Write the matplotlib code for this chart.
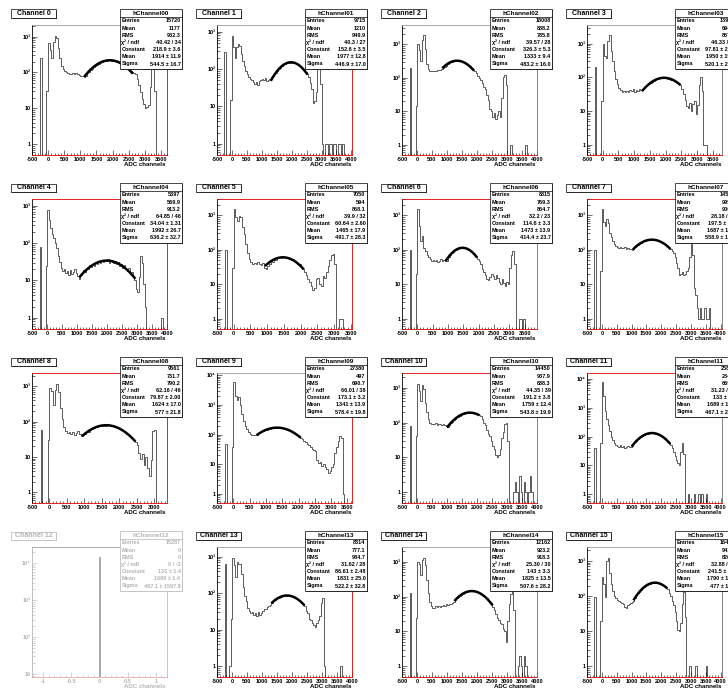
import numpy as np
import matplotlib
matplotlib.use('Agg')
import matplotlib.pyplot as plt
from matplotlib.patches import Rectangle
from matplotlib.lines import Line2D
from matplotlib.ticker import MultipleLocator, FixedLocator, FuncFormatter, LogLocator, NullFormatter

plt.rcParams['font.family'] = ['Liberation Sans', 'DejaVu Sans']
plt.rcParams['font.weight'] = 'bold'

# 50 ADC per bin, -500 .. 4000
bin_edges = np.arange(-500, 4001, 50)

ch00 = [0, 0, 0, 0, 0, 250, 0, 0, 0, 30,
        660, 420, 250, 700, 1050, 900, 480, 260, 150, 125,
        110, 100, 95, 92, 88, 95, 90, 96, 92, 86,
        80, 78, 74, 82, 95, 102, 118, 125, 138, 150,
        163, 172, 188, 193, 205, 210, 214, 222, 218, 212,
        216, 208, 201, 192, 187, 176, 166, 152, 146, 135,
        120, 112, 104, 95, 88, 66, 44, 28, 18, 13,
        10, 11, 12, 40, 130, 140, 30, 0, 0, 0,
        0, 0, 0, 0, 0, 0, 0, 0, 0, 0]
ch01 = [0, 0, 0, 0, 0, 280, 0, 0, 0, 15,
        760, 380, 200, 380, 480, 420, 250, 170, 120, 90,
        72, 62, 55, 50, 46, 40, 44, 38, 48, 52,
        55, 50, 58, 47, 52, 55, 60, 66, 72, 80,
        90, 98, 110, 120, 128, 138, 143, 150, 152, 149,
        153, 147, 143, 136, 130, 122, 112, 102, 93, 82,
        72, 62, 42, 30, 12, 14, 25, 120, 180, 40,
        1, 0, 1, 1, 0, 1, 1, 0, 1, 1,
        0, 1, 1, 0, 1, 0, 0, 0, 0, 0]
ch02 = [0, 0, 0, 0, 0, 200, 0, 0, 0, 15,
        1000, 700, 320, 1400, 1900, 720, 260, 180, 165, 160,
        158, 165, 160, 170, 168, 175, 185, 195, 215, 230,
        262, 280, 295, 305, 315, 320, 326, 330, 322, 318,
        305, 296, 275, 262, 240, 222, 198, 178, 156, 140,
        118, 100, 86, 72, 55, 48, 30, 22, 12, 10,
        7, 9, 6, 8, 10, 7, 25, 110, 125, 60,
        0, 0, 1, 0, 0, 0, 0, 0, 0, 0,
        0, 0, 1, 0, 0, 0, 0, 0, 0, 0]
ch03 = [0, 0, 0, 0, 0, 210, 0, 0, 0, 20,
        1000, 420, 380, 1200, 1800, 600, 300, 160, 90, 65,
        50, 42, 38, 40, 36, 41, 38, 42, 40, 44,
        38, 42, 40, 45, 43, 46, 50, 55, 60, 63,
        70, 74, 80, 84, 88, 90, 94, 95, 97, 100,
        96, 92, 90, 86, 82, 78, 72, 68, 62, 58,
        45, 32, 22, 14, 12, 18, 10, 16, 20, 8,
        15, 60, 100, 40, 1, 1, 0, 0, 0, 0,
        0, 0, 0, 0, 0, 0, 0, 0, 0, 0]
ch04 = [0, 0, 0, 0, 0, 78, 0, 0, 0, 25,
        760, 420, 260, 180, 140, 100, 75, 45, 32, 22,
        18, 20, 16, 18, 14, 19, 15, 17, 20, 16,
        13, 11, 14, 16, 19, 17, 22, 20, 26, 23,
        28, 25, 32, 28, 34, 30, 36, 31, 35, 33,
        38, 30, 35, 32, 29, 34, 27, 31, 25, 28,
        22, 26, 20, 18, 21, 15, 17, 12, 10, 6,
        5, 12, 45, 30, 8, 2, 0, 0, 0, 0,
        0, 0, 0, 0, 0, 0, 1, 0, 0, 0]
ch05 = [0, 0, 0, 0, 0, 100, 0, 0, 0, 30,
        1500, 900, 700, 950, 900, 450, 280, 150, 80, 55,
        45, 40, 42, 38, 44, 40, 36, 41, 30, 28,
        35, 38, 46, 44, 52, 50, 56, 61, 58, 63,
        60, 58, 62, 55, 52, 54, 46, 45, 38, 40,
        32, 28, 22, 18, 14, 12, 9, 7, 8, 14,
        15, 10, 9, 17, 15, 22, 35, 50, 70, 75,
        40, 0, 0, 1, 1, 0, 0, 0, 0, 0,
        0, 0, 0, 0, 0, 0, 0, 0, 0, 0]
ch06 = [0, 0, 0, 0, 0, 100, 0, 0, 0, 20,
        1500, 500, 180, 250, 110, 90, 70, 60, 55, 48,
        50, 46, 52, 44, 48, 53, 47, 50, 46, 48,
        62, 72, 82, 88, 96, 102, 108, 112, 114, 115,
        113, 110, 107, 100, 95, 88, 80, 72, 63, 55,
        47, 38, 28, 22, 18, 14, 13, 16, 20, 17,
        14, 18, 15, 12, 10, 14, 11, 9, 12, 10,
        30, 70, 90, 40, 0, 0, 1, 1, 0, 1,
        0, 0, 0, 0, 0, 0, 0, 0, 0, 0]
ch07 = [0, 0, 0, 0, 0, 100, 0, 0, 0, 25,
        1500, 650, 500, 800, 600, 300, 240, 180, 150, 130,
        120, 115, 118, 110, 112, 120, 106, 114, 108, 104,
        100, 108, 118, 128, 140, 150, 160, 168, 177, 183,
        189, 192, 196, 198, 197, 196, 191, 188, 180, 172,
        164, 155, 145, 135, 124, 112, 103, 92, 80, 62,
        42, 30, 18, 20, 22, 19, 20, 24, 30, 60,
        150, 70, 8, 5, 2, 1, 2, 1, 1, 2,
        1, 1, 2, 0, 0, 0, 0, 0, 0, 0]
ch08 = [0, 0, 0, 0, 0, 60, 0, 0, 0, 30,
        900, 750, 300, 800, 1200, 700, 250, 120, 70, 55,
        48, 52, 45, 50, 42, 47, 53, 44, 40, 42,
        44, 50, 52, 60, 64, 68, 70, 73, 74, 78,
        77, 80, 78, 80, 79, 77, 77, 75, 70, 67,
        62, 59, 55, 51, 46, 42, 38, 34, 30, 27,
        22, 13, 9, 12, 6, 10, 5, 3, 8, 55,
        60, 0, 0, 0, 0, 0, 0, 0, 0, 0,
        0, 0, 0, 0, 0, 0, 0, 0, 0, 0]
ch09 = [0, 0, 0, 0, 0, 50, 0, 0, 0, 40,
        6000, 2000, 1500, 1800, 1000, 500, 300, 200, 150, 120,
        105, 100, 95, 98, 98, 112, 120, 130, 136, 145,
        149, 153, 161, 165, 170, 168, 173, 170, 171, 168,
        164, 160, 153, 148, 139, 130, 122, 112, 104, 95,
        86, 78, 69, 62, 58, 50, 45, 38, 34, 30,
        28, 14, 11, 12, 9, 10, 8, 7, 5, 6,
        8, 10, 25, 40, 60, 90, 80, 1, 0, 0,
        0, 0, 0, 0, 0, 0, 0, 0, 0, 0]
ch10 = [0, 0, 0, 0, 0, 80, 0, 0, 0, 40,
        1300, 800, 400, 1200, 900, 350, 200, 130, 100, 92,
        90, 88, 94, 86, 90, 92, 85, 88, 84, 80,
        76, 86, 97, 106, 118, 128, 139, 148, 158, 166,
        174, 180, 185, 188, 191, 189, 190, 186, 182, 176,
        170, 160, 152, 125, 100, 85, 62, 48, 40, 30,
        22, 18, 12, 10, 12, 18, 35, 55, 90, 100,
        30, 0, 0, 0, 1, 2, 1, 0, 3, 1,
        0, 2, 1, 0, 1, 3, 1, 0, 0, 0]
ch11 = [0, 0, 0, 0, 0, 40, 0, 0, 0, 60,
        8000, 2500, 800, 400, 250, 160, 100, 75, 60, 52,
        48, 45, 50, 42, 46, 40, 44, 47, 42, 45,
        47, 55, 64, 72, 81, 90, 98, 106, 113, 119,
        125, 128, 132, 134, 133, 131, 128, 122, 117, 110,
        103, 95, 86, 78, 69, 60, 53, 40, 30, 22,
        15, 12, 10, 30, 60, 25, 0, 0, 1, 0,
        0, 0, 1, 0, 0, 1, 0, 1, 0, 0,
        1, 0, 0, 0, 0, 0, 0, 0, 0, 0]
ch13 = [0, 0, 0, 0, 0, 650, 0, 0, 1, 20,
        930, 600, 280, 700, 620, 640, 330, 150, 85, 60,
        40, 32, 28, 30, 26, 28, 24, 30, 25, 28,
        32, 38, 36, 42, 45, 48, 54, 60, 64, 70,
        73, 76, 80, 82, 85, 87, 86, 85, 84, 82,
        81, 77, 74, 70, 65, 60, 55, 50, 45, 32,
        28, 20, 18, 15, 13, 12, 15, 18, 24, 55,
        75, 1, 0, 0, 0, 0, 0, 0, 0, 0,
        0, 0, 1, 0, 0, 0, 0, 0, 0, 0]
ch14 = [0, 0, 0, 0, 0, 125, 0, 0, 0, 25,
        1000, 850, 400, 1100, 1300, 800, 300, 130, 70, 55,
        48, 47, 52, 50, 54, 50, 55, 58, 55, 60,
        58, 62, 60, 64, 70, 79, 88, 97, 105, 113,
        120, 127, 132, 137, 140, 142, 143, 142, 140, 137,
        132, 127, 120, 113, 105, 97, 88, 79, 71, 63,
        50, 40, 32, 25, 22, 18, 16, 12, 10, 5,
        20, 60, 120, 170, 40, 0, 0, 1, 2, 1,
        0, 2, 1, 0, 0, 0, 0, 0, 0, 0]
ch15 = [0, 0, 0, 0, 0, 95, 0, 0, 0, 20,
        340, 220, 95, 1000, 1250, 470, 220, 140, 100, 90,
        80, 75, 70, 62, 58, 48, 45, 55, 60, 65,
        70, 75, 90, 105, 120, 135, 150, 165, 180, 194,
        206, 218, 226, 234, 238, 241, 240, 238, 232, 224,
        214, 202, 188, 174, 158, 120, 100, 75, 55, 35,
        20, 11, 10, 17, 60, 130, 25, 0, 0, 1,
        0, 0, 0, 1, 0, 0, 0, 0, 0, 0,
        1, 0, 0, 0, 0, 0, 0, 0, 0, 0]

# channel 12 is dead: everything in one bin at 0
ch12_edges = [-1.2, -0.012, 0.012, 1.2]
ch12 = [0, 15287, 0]

hists = [ch00, ch01, ch02, ch03, ch04, ch05, ch06, ch07,
         ch08, ch09, ch10, ch11, ch12, ch13, ch14, ch15]

# gaussian fit results (constant, mean, sigma) and fit range
fit_const = [218.9, 152.6, 326.3, 97.81, 34.04, 60.64, 114.6, 197.5,
             79.87, 173.1, 191.2, 133.0, None, 86.61, 143.0, 241.5]
fit_mean = [1914, 1977, 1333, 1950, 1992, 1465, 1473, 1687,
            1624, 1341, 1759, 1689, None, 1831, 1825, 1790]
fit_sigma = [544.5, 446.9, 483.2, 520.1, 636.2, 491.7, 414.4, 558.9,
             577.0, 578.4, 543.8, 467.1, None, 522.2, 507.6, 477.0]
fit_lo = [1120, 1300, 840, 1245, 1076, 930, 920, 1045,
          933, 714, 1000, 1000, None, 1310, 1245, 1065]
fit_hi = [2630, 2530, 1900, 2470, 2947, 2090, 1950, 2318,
          2467, 2071, 2083, 2308, None, 2420, 2523, 2205]
x_max = [3690, 4020, 4000, 3790, 4000, 3530, 3900, 4050,
         3370, 3640, 4000, 4050, None, 4000, 4000, 4050]

# stats box texts
st_entries = ['15720', '9715', '18008', '13924', '5397', '7050', '8815', '14536',
              '9561', '27380', '14450', '25827', '15287', '8314', '12162', '16487']
st_mean = ['1177', '1210', '888.2', '694.9', '569.9', '594', '769.3', '995.6',
           '731.7', '497', '937.9', '234.5', '0', '777.1', '923.2', '943.2']
st_rms = ['932.3', '949.9', '785.8', '857.5', '913.2', '858.1', '854.7', '900.1',
          '790.2', '690.7', '888.3', '669.4', '0', '984.7', '918.3', '826.1']
st_chi2 = ['40.42 / 34', '40.3 / 27', '39.57 / 28', '46.33 / 37', '64.85 / 46',
           '39.9 / 32', '32.2 / 23', '28.18 / 35', '62.16 / 46', '66.01 / 38',
           '44.35 / 39', '31.23 / 33', '0 / -3', '31.62 / 28', '25.30 / 30', '32.88 / 24']
st_const = ['218.9 ± 3.6', '152.6 ± 3.5', '326.3 ± 5.3', '97.81 ± 2.51', '34.04 ± 1.31',
            '60.64 ± 2.60', '114.6 ± 3.3', '197.5 ± 3.6', '79.87 ± 2.00', '173.1 ± 3.2',
            '191.2 ± 3.8', '133 ± 3.1', '133 ± 1.4', '86.61 ± 2.48', '143 ± 3.3', '241.5 ± 4.2']
st_fmean = ['1914 ± 11.9', '1977 ± 12.8', '1333 ± 9.4', '1950 ± 15.3', '1992 ± 26.7',
            '1465 ± 17.9', '1473 ± 13.9', '1687 ± 12.2', '1624 ± 17.0', '1341 ± 13.9',
            '1759 ± 12.4', '1689 ± 13.2', '1689 ± 1.4', '1831 ± 25.0', '1825 ± 13.5', '1790 ± 10.1']
st_fsig = ['544.5 ± 16.7', '446.9 ± 17.0', '483.2 ± 16.0', '520.1 ± 22.4', '636.2 ± 32.7',
           '491.7 ± 28.3', '414.4 ± 23.7', '558.9 ± 15.8', '577 ± 21.8', '578.4 ± 19.8',
           '543.8 ± 19.9', '467.1 ± 21.4', '467.1 ± 1597.9', '522.2 ± 32.8', '507.6 ± 28.2', '477 ± 15.3']

top_red = {4, 5, 6, 7, 8, 10, 11}

W, H = 728, 690
fig = plt.figure(figsize=(W / 100, H / 100), dpi=100)


def fx(px):
    return px / W


def fy(py):
    return 1 - py / H


def pave(x, y, w, h, ink, shadow):
    fig.add_artist(Rectangle((fx(x + 1.4), fy(y + h + 1.4)), w / W, h / H,
                             transform=fig.transFigure, facecolor=shadow,
                             edgecolor='none', zorder=5))
    fig.add_artist(Rectangle((fx(x), fy(y + h)), w / W, h / H,
                             transform=fig.transFigure, facecolor='white',
                             edgecolor=ink, lw=0.5, zorder=6))


sup = {2: '²', 3: '³', 4: '⁴', 5: '⁵'}


def ylab(v, pos):
    e = int(round(np.log10(v)))
    if e == 0:
        return '1'
    if e == 1:
        return '10'
    return '10' + sup.get(e, str(e))


for ch in range(16):
    row, col = divmod(ch, 4)
    ox, oy = 185 * col, 174 * row
    dead = ch == 12
    ink = '#b4b4b4' if dead else 'black'
    red = '#e8a8a8' if dead else '#e00000'

    ax = fig.add_axes([fx(ox + 32), fy(oy + 155), 135 / W, 130 / H])
    ax.set_yscale('log')
    if dead:
        ax.stairs(np.where(np.array(ch12) > 0, ch12, 1e-3), ch12_edges,
                  baseline=None, color='#a8a8a8', lw=0.7)
        ax.set_xlim(-1.2, 1.2)
        ax.set_ylim(8.3, 2.8e4)
        ax.xaxis.set_major_locator(FixedLocator([-1, -0.5, 0, 0.5, 1]))
        ax.xaxis.set_major_formatter(FuncFormatter(lambda v, p: '%g' % v))
        ax.xaxis.set_minor_locator(MultipleLocator(0.1))
    else:
        counts = np.array(hists[ch], dtype=float)
        ax.stairs(np.where(counts > 0, counts, 1e-3), bin_edges,
                  baseline=None, color='#303030', lw=0.55)
        xf = np.linspace(fit_lo[ch], fit_hi[ch], 200)
        yf = fit_const[ch] * np.exp(-0.5 * ((xf - fit_mean[ch]) / fit_sigma[ch]) ** 2)
        ax.plot(xf, yf, color='black', lw=1.8, solid_capstyle='butt')
        ax.set_xlim(-500, x_max[ch])
        ax.set_ylim(0.5, 2 * counts.max())
        ax.xaxis.set_major_locator(MultipleLocator(500))
        ax.xaxis.set_major_formatter(FuncFormatter(lambda v, p: '%d' % v))
        ax.xaxis.set_minor_locator(MultipleLocator(100))

    ax.yaxis.set_major_locator(LogLocator(base=10, numticks=10))
    ax.yaxis.set_major_formatter(FuncFormatter(ylab))
    ax.yaxis.set_minor_locator(LogLocator(base=10, subs=np.arange(2, 10), numticks=10))
    ax.yaxis.set_minor_formatter(NullFormatter())
    ax.tick_params(which='both', direction='in', width=0.4, colors=ink,
                   labelsize=4.0, pad=1.2)
    ax.tick_params(which='major', length=3.5)
    ax.tick_params(which='minor', length=1.8)

    ax.spines['left'].set_color(ink)
    ax.spines['bottom'].set_color(red)
    ax.spines['right'].set_color(red if col < 2 or dead else '#707070')
    ax.spines['top'].set_color(red if ch in top_red else '#9a9a9a')
    for s in ax.spines.values():
        s.set_linewidth(0.6)

    fig.text(fx(ox + 166), fy(oy + 164.5), 'ADC channels', ha='right', va='center',
             fontsize=4.4, color=ink)

    # title pave
    shadow = '#d8d8d8' if dead else '#202020'
    pave(ox + 11, oy + 9.5, 45, 8, ink, shadow)
    fig.text(fx(ox + 33.5), fy(oy + 13.6), 'Channel %d' % ch, ha='center',
             va='center', fontsize=5.0, color=ink, zorder=7)

    # stats pave
    bx, by, bw, bh = ox + 120, oy + 9, 62, 59.5
    pave(bx, by, bw, bh, ink, shadow)
    fig.text(fx(bx + bw / 2), fy(by + 4.2), 'hChannel%02d' % ch, ha='center',
             va='center', fontsize=4.6, color=ink, zorder=7)
    fig.add_artist(Line2D([fx(bx), fx(bx + bw)], [fy(by + 8.2), fy(by + 8.2)],
                          transform=fig.transFigure, color=ink, lw=0.5, zorder=7))
    rows = [('Entries', st_entries[ch]), ('Mean', st_mean[ch]), ('RMS', st_rms[ch]),
            ('χ² / ndf', st_chi2[ch]), ('Constant', st_const[ch]),
            ('Mean', st_fmean[ch]), ('Sigma', st_fsig[ch])]
    for k, (lab, val) in enumerate(rows):
        yy = fy(by + 11.8 + 7.2 * k)
        fig.text(fx(bx + 1.5), yy, lab, ha='left', va='center', fontsize=4.0,
                 color=ink, zorder=7)
        fig.text(fx(bx + bw - 1.5), yy, val, ha='right', va='center', fontsize=4.0,
                 color=ink, zorder=7)

fig.savefig('out.png', dpi=100)
